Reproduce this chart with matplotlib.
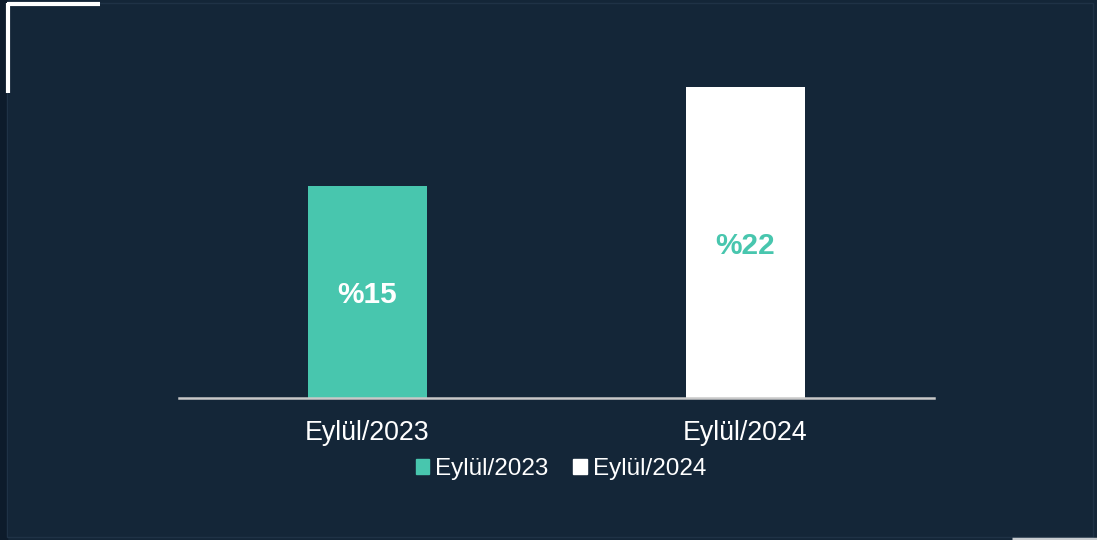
import matplotlib
matplotlib.use("Agg")
import matplotlib.pyplot as plt
from matplotlib.patches import Rectangle
from matplotlib.lines import Line2D

categories = ["Eylül/2023", "Eylül/2024"]
values = [15, 22]
value_labels = ["%15", "%22"]
bar_colors = ["#48c6ae", "#ffffff"]
label_colors = ["#ffffff", "#48c6ae"]

BG = "#142638"
W, H = 1097, 540
plt.rcParams['font.family'] = ['Liberation Sans', 'DejaVu Sans']

fig = plt.figure(figsize=(W / 100, H / 100), dpi=100, facecolor=BG)

def px(x0, y0, x1, y1):
    return [x0 / W, 1 - y1 / H, (x1 - x0) / W, (y1 - y0) / H]

# decorations
fig.patches.append(Rectangle((0, 0), 7 / W, 1, transform=fig.transFigure, color="#0d1b2b", zorder=0))
fig.patches.append(Rectangle((7 / W, 3 / H), (W - 11) / W, (H - 6) / H, transform=fig.transFigure,
                             fill=False, edgecolor="#1f3246", linewidth=1, zorder=1))
fig.lines.append(Line2D([7 / W, 100 / W], [1 - 4 / H, 1 - 4 / H], transform=fig.transFigure,
                        color="white", linewidth=3, solid_capstyle="butt"))
fig.lines.append(Line2D([8 / W, 8 / W], [1 - 3 / H, 1 - 93 / H], transform=fig.transFigure,
                        color="white", linewidth=3, solid_capstyle="butt"))
fig.lines.append(Line2D([1012 / W, 1], [1 - 538.5 / H, 1 - 538.5 / H], transform=fig.transFigure,
                        color="#c8ccd0", linewidth=2.5, solid_capstyle="butt"))

ax = fig.add_axes(px(179, 50, 934, 398))
ax.set_facecolor("none")
x = range(len(categories))
bars = ax.bar(x, values, width=0.315, color=bar_colors, zorder=2)
ax.set_xlim(-0.4987, 1.4987)
ax.set_ylim(0, 348 / (212 / 15))

for i, (v, lab) in enumerate(zip(values, value_labels)):
    ax.text(i, v / 2, lab, ha="center", va="center_baseline", color=label_colors[i],
            fontsize=21.5, fontweight="bold", zorder=3)

for s in ["top", "right", "left"]:
    ax.spines[s].set_visible(False)
ax.spines["bottom"].set_color("#c8c8c8")
ax.spines["bottom"].set_linewidth(1.8)
ax.set_yticks([])
ax.set_xticks(list(x))
ax.set_xticklabels(categories, color="white", fontsize=19.3)
ax.tick_params(axis="x", length=0, pad=16)

handles = [Rectangle((0, 0), 1, 1, color=c) for c in bar_colors]
leg = fig.legend(handles, categories, loc="center", bbox_to_anchor=(561 / W, 1 - 469 / H),
                 ncol=2, frameon=False, fontsize=17.5, labelcolor="white",
                 handlelength=0.55, handleheight=0.55, handletextpad=0.25, columnspacing=1.0)

fig.savefig("out.png", dpi=100, facecolor=BG)
